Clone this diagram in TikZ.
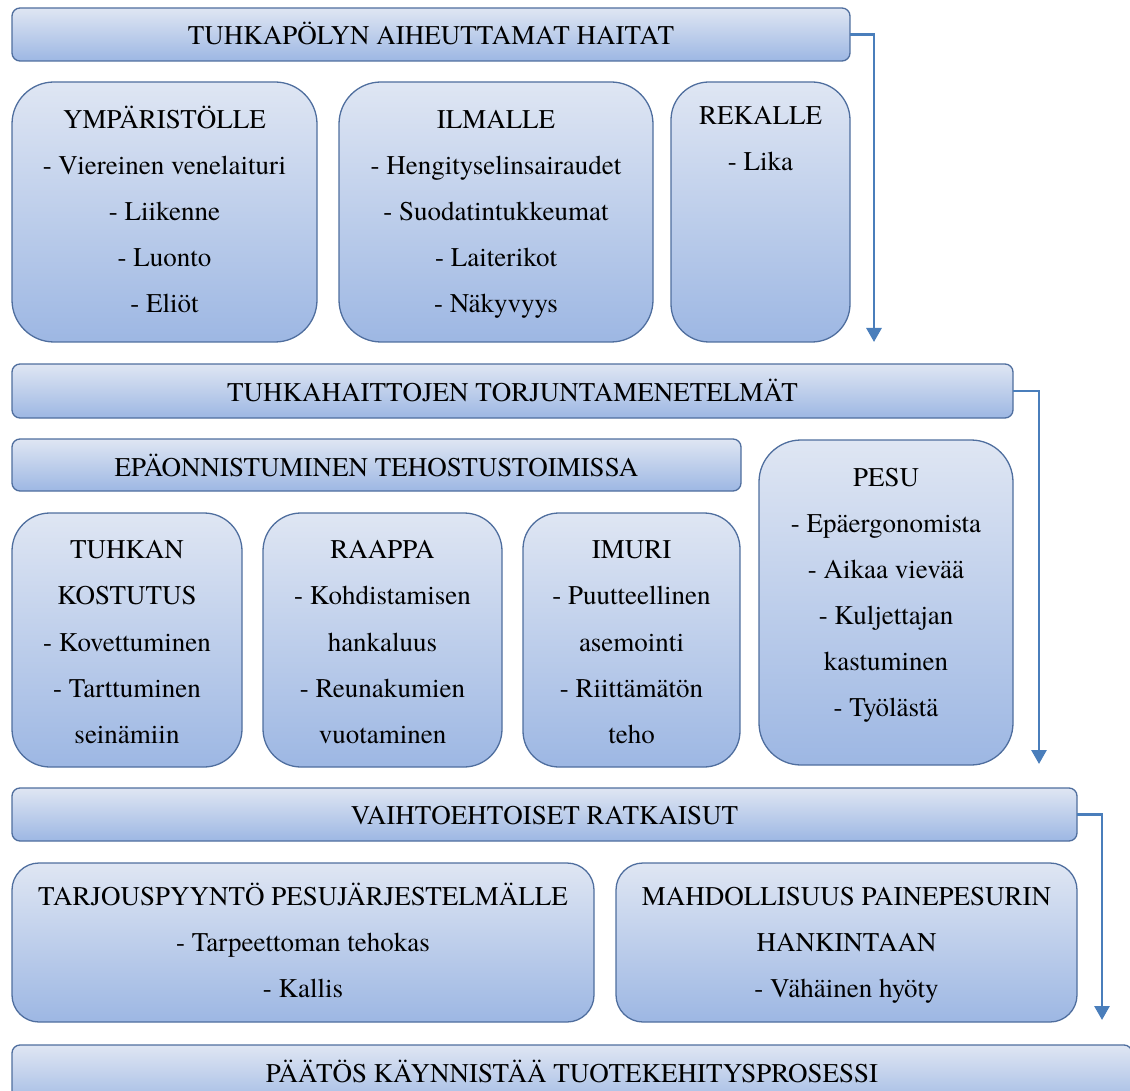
\documentclass[tikz,border=0pt]{standalone}
\usepackage{fontspec}
\setmainfont{texgyretermes}[Extension=.otf, UprightFont=*-regular, BoldFont=*-bold]
\usetikzlibrary{arrows.meta}
\definecolor{boxtop}{RGB}{223,230,243}
\definecolor{boxbot}{RGB}{157,183,227}
\definecolor{boxline}{RGB}{79,110,158}
\definecolor{arrowblue}{RGB}{74,126,187}
\begin{document}
\begin{tikzpicture}[x=1pt,y=-1pt,
  shadedbox/.style={draw=boxline, line width=1.3pt, top color=boxtop, bottom color=boxbot,
    inner sep=0pt, outer sep=0pt, anchor=north west},
  txt/.style={anchor=base, inner sep=0pt, font=\rmfamily\fontsize{27}{30}\selectfont},
  flowarrow/.style={draw=arrowblue, line width=2.8pt, -{Triangle[width=15pt,length=14pt]}}]
\useasboundingbox (0,0) rectangle (1130,1091);
\clip (0,0) rectangle (1130,1091);

% ---- level 1
\node[shadedbox, minimum width=838pt, minimum height=53pt, rounded corners=8pt] (bar1) at (12,8) {};
\node[txt] (t1) at (431,45) {TUHKAPÖLYN AIHEUTTAMAT HAITAT};

\node[shadedbox, minimum width=305pt, minimum height=260pt, rounded corners=42pt] (ymp) at (12,82) {};
\node[txt] (ymp1) at (164.5,129) {YMPÄRISTÖLLE};
\node[txt] (ymp2) at (164.5,175) {- Viereinen venelaituri};
\node[txt] (ymp3) at (164.5,221) {- Liikenne};
\node[txt] (ymp4) at (164.5,267) {- Luonto};
\node[txt] (ymp5) at (164.5,313) {- Eliöt};

\node[shadedbox, minimum width=314pt, minimum height=260pt, rounded corners=42pt] (ilm) at (339,82) {};
\node[txt] (ilm1) at (496,129) {ILMALLE};
\node[txt] (ilm2) at (496,175) {- Hengityselinsairaudet};
\node[txt] (ilm3) at (496,221) {- Suodatintukkeumat};
\node[txt] (ilm4) at (496,267) {- Laiterikot};
\node[txt] (ilm5) at (496,313) {- Näkyvyys};

\node[shadedbox, minimum width=179pt, minimum height=260pt, rounded corners=38pt] (rek) at (671,82) {};
\node[txt] (rek1) at (760.5,125) {REKALLE};
\node[txt] (rek2) at (760.5,171) {- Lika};

\coordinate (a1) at (874,342);
\draw[flowarrow] (bar1.east) -| (a1);

% ---- level 2
\node[shadedbox, minimum width=1001pt, minimum height=54pt, rounded corners=8pt] (bar2) at (12,364) {};
\node[txt] (t2) at (512.5,401) {TUHKAHAITTOJEN TORJUNTAMENETELMÄT};

\node[shadedbox, minimum width=729pt, minimum height=52pt, rounded corners=8pt] (epa) at (12,439) {};
\node[txt] (epa1) at (376.5,476) {EPÄONNISTUMINEN TEHOSTUSTOIMISSA};

\node[shadedbox, minimum width=254pt, minimum height=325pt, rounded corners=42pt] (pesu) at (759,440) {};
\node[txt] (pesu1) at (886,486) {PESU};
\node[txt] (pesu2) at (886,532) {- Epäergonomista};
\node[txt] (pesu3) at (886,578) {- Aikaa vievää};
\node[txt] (pesu4) at (886,624) {- Kuljettajan};
\node[txt] (pesu5) at (886,670) {kastuminen};
\node[txt] (pesu6) at (886,716) {- Työlästä};

\node[shadedbox, minimum width=230pt, minimum height=254pt, rounded corners=38pt] (tuhk) at (12,513) {};
\node[txt] (tuhk1) at (127,558) {TUHKAN};
\node[txt] (tuhk2) at (127,604.5) {KOSTUTUS};
\node[txt] (tuhk3) at (127,651) {- Kovettuminen};
\node[txt] (tuhk4) at (127,697) {- Tarttuminen};
\node[txt] (tuhk5) at (127,743) {seinämiin};

\node[shadedbox, minimum width=239pt, minimum height=254pt, rounded corners=38pt] (raap) at (263,513) {};
\node[txt] (raap1) at (382.5,558) {RAAPPA};
\node[txt] (raap2) at (382.5,604.5) {- Kohdistamisen};
\node[txt] (raap3) at (382.5,651) {hankaluus};
\node[txt] (raap4) at (382.5,697) {- Reunakumien};
\node[txt] (raap5) at (382.5,743) {vuotaminen};

\node[shadedbox, minimum width=217pt, minimum height=254pt, rounded corners=36pt] (imur) at (523,513) {};
\node[txt] (imur1) at (631.5,558) {IMURI};
\node[txt] (imur2) at (631.5,604.5) {- Puutteellinen};
\node[txt] (imur3) at (631.5,651) {asemointi};
\node[txt] (imur4) at (631.5,697) {- Riittämätön};
\node[txt] (imur5) at (631.5,743) {teho};

\coordinate (a2) at (1039,764);
\draw[flowarrow] (bar2.east) -| (a2);

% ---- level 3
\node[shadedbox, minimum width=1065pt, minimum height=53pt, rounded corners=8pt] (bar3) at (12,788) {};
\node[txt] (t3) at (544.5,824) {VAIHTOEHTOISET RATKAISUT};

\node[shadedbox, minimum width=582pt, minimum height=159pt, rounded corners=27pt] (tarj) at (12,863) {};
\node[txt] (tarj1) at (303,905) {TARJOUSPYYNTÖ PESUJÄRJESTELMÄLLE};
\node[txt] (tarj2) at (303,951) {- Tarpeettoman tehokas};
\node[txt] (tarj3) at (303,997) {- Kallis};

\node[shadedbox, minimum width=461pt, minimum height=159pt, rounded corners=27pt] (mahd) at (616,863) {};
\node[txt] (mahd1) at (846.5,905) {MAHDOLLISUUS PAINEPESURIN};
\node[txt] (mahd2) at (846.5,951) {HANKINTAAN};
\node[txt] (mahd3) at (846.5,997) {- Vähäinen hyöty};

\coordinate (a3) at (1102,1020);
\draw[flowarrow] (bar3.east) -| (a3);

% ---- level 4
\node[shadedbox, minimum width=1120pt, minimum height=65pt, rounded corners=8pt] (bar4) at (12,1045) {};
\node[txt] (t4) at (572,1082) {PÄÄTÖS KÄYNNISTÄÄ TUOTEKEHITYSPROSESSI};
\end{tikzpicture}
\end{document}
